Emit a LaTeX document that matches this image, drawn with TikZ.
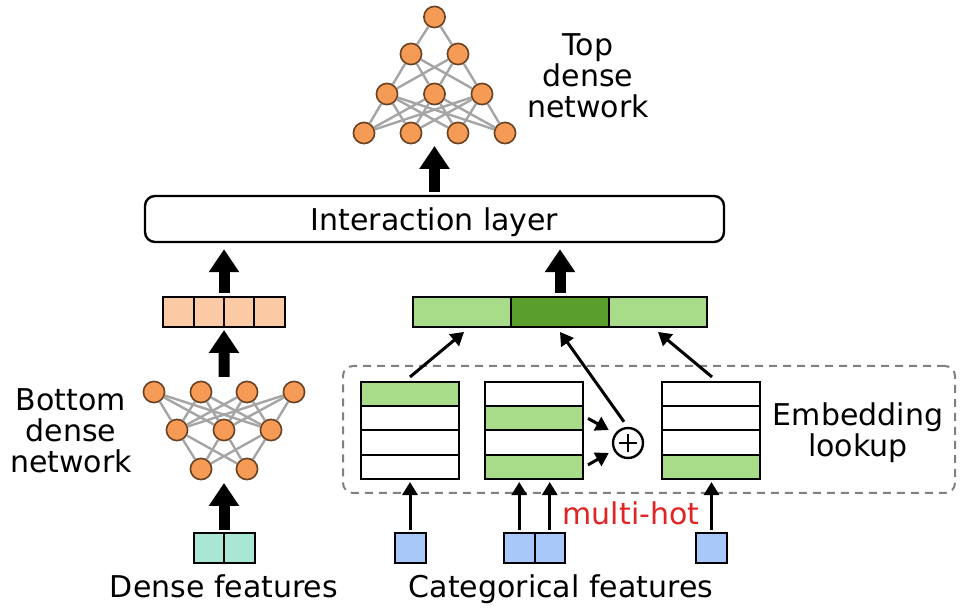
\documentclass[tikz,border=0pt]{standalone}
\usepackage{fontspec}
\setmainfont{DejaVu Sans}
\usetikzlibrary{arrows.meta,calc}
\definecolor{nodeor}{RGB}{245,155,85}
\definecolor{nodebd}{RGB}{105,65,35}
\definecolor{edgegray}{RGB}{165,165,165}
\definecolor{peach}{RGB}{251,202,165}
\definecolor{lgreen}{RGB}{169,220,137}
\definecolor{dgreen}{RGB}{90,158,45}
\definecolor{teal}{RGB}{170,230,212}
\definecolor{catblue}{RGB}{168,200,250}
\definecolor{dashgray}{RGB}{128,128,128}
\definecolor{hotred}{RGB}{225,35,35}
\begin{document}
\begin{tikzpicture}[x=0.5pt,y=-0.5pt,
  font=\fontsize{15pt}{15.5pt}\selectfont,
  neuron/.style={circle, draw=nodebd, fill=nodeor, line width=0.8pt, minimum size=10.6pt, inner sep=0pt},
  syn/.style={draw=edgegray, line width=1.2pt},
  cell/.style={draw, line width=1pt, inner sep=0pt, outer sep=0pt, minimum height=12.125pt, minimum width=49pt, fill=white},
  vcell/.style={cell, minimum height=15pt},
  bigarrow/.style={line width=5.5pt, -{Triangle[width=14.5pt,length=11.5pt]}},
  smallarrow/.style={line width=1.5pt, -{Triangle[width=7.5pt,length=6.5pt]}},
  lbl/.style={inner sep=0pt, align=center},
]
\useasboundingbox (0,0) rectangle (975,613);

% ---------- top dense network ----------
\node[neuron] (t11) at (434.5,17) {};
\node[neuron] (t21) at (411,54) {};
\node[neuron] (t22) at (458,54) {};
\node[neuron] (t31) at (387,94) {};
\node[neuron] (t32) at (434.5,94) {};
\node[neuron] (t33) at (482,94) {};
\node[neuron] (t41) at (364,133) {};
\node[neuron] (t42) at (411,133) {};
\node[neuron] (t43) at (458,133) {};
\node[neuron] (t44) at (505,133) {};
\foreach \b in {t21,t22} \draw[syn] (t11) -- (\b);
\foreach \a in {t21,t22} \foreach \b in {t31,t32,t33} \draw[syn] (\a) -- (\b);
\foreach \a in {t31,t32,t33} \foreach \b in {t41,t42,t43,t44} \draw[syn] (\a) -- (\b);
\node[lbl, anchor=north] (toplbl) at (588,33) {Top\\dense\\network};

% ---------- bottom dense network ----------
\node[neuron] (b11) at (154,392) {};
\node[neuron] (b12) at (201,392) {};
\node[neuron] (b13) at (247,392) {};
\node[neuron] (b14) at (294,392) {};
\node[neuron] (b21) at (177,430) {};
\node[neuron] (b22) at (224,430) {};
\node[neuron] (b23) at (271,430) {};
\node[neuron] (b31) at (201,469) {};
\node[neuron] (b32) at (247,469) {};
\foreach \a in {b11,b12,b13,b14} \foreach \b in {b21,b22,b23} \draw[syn] (\a) -- (\b);
\foreach \a in {b21,b22,b23} \foreach \b in {b31,b32} \draw[syn] (\a) -- (\b);
\node[lbl, anchor=north] (botlbl) at (71,388) {Bottom\\dense\\network};

% ---------- interaction layer ----------
\node[draw, rounded corners=5pt, line width=1.2pt, minimum width=289.5pt, minimum height=23pt,
      text height=12pt, text depth=0pt, inner sep=0pt] (inter) at (434.5,219) {Interaction layer};

% ---------- dense vector ----------
\node[vcell, fill=peach, minimum width=15.125pt] (o1) at (178.6,312) {};
\node[vcell, fill=peach, minimum width=15.125pt] (o2) at (208.9,312) {};
\node[vcell, fill=peach, minimum width=15.125pt] (o3) at (239.1,312) {};
\node[vcell, fill=peach, minimum width=15.125pt] (o4) at (269.4,312) {};

% ---------- embedding vector ----------
\node[vcell, fill=lgreen] (v1) at (462,312) {};
\node[vcell, fill=dgreen] (v2) at (560,312) {};
\node[vcell, fill=lgreen] (v3) at (658,312) {};

% ---------- embedding lookup ----------
\node[draw=dashgray, dash pattern=on 4pt off 3pt, line width=1pt, rounded corners=5pt,
      minimum width=306pt, minimum height=63.5pt, inner sep=0pt] (emb) at (649,429.5) {};
\node[lbl, anchor=north] (emblbl) at (858,402) {Embedding\\lookup};

\node[cell, fill=lgreen] (ta1) at (410,394.1) {};
\node[cell] (ta2) at (410,418.4) {};
\node[cell] (ta3) at (410,442.6) {};
\node[cell] (ta4) at (410,466.9) {};

\node[cell] (tb1) at (534,394.1) {};
\node[cell, fill=lgreen] (tb2) at (534,418.4) {};
\node[cell] (tb3) at (534,442.6) {};
\node[cell, fill=lgreen] (tb4) at (534,466.9) {};

\node[cell] (tc1) at (711,394.1) {};
\node[cell] (tc2) at (711,418.4) {};
\node[cell] (tc3) at (711,442.6) {};
\node[cell, fill=lgreen] (tc4) at (711,466.9) {};

\node[circle, draw, line width=1.2pt, minimum size=15pt, inner sep=0pt,
      path picture={
        \draw[line width=1.1pt] ([xshift=-4.5pt]path picture bounding box.center) -- ([xshift=4.5pt]path picture bounding box.center);
        \draw[line width=1.1pt] ([yshift=-4.5pt]path picture bounding box.center) -- ([yshift=4.5pt]path picture bounding box.center);
      }] (plus) at (628,443) {};

% ---------- feature inputs ----------
\node[vcell, fill=teal, minimum width=15.25pt] (d1) at (208.75,548) {};
\node[vcell, fill=teal, minimum width=15.25pt] (d2) at (239.25,548) {};
\node[lbl, anchor=base] (denselbl) at (224,598) {Dense features};

\node[vcell, fill=catblue, minimum width=15.5pt] (c1) at (410,548) {};
\node[vcell, fill=catblue, minimum width=15.25pt] (c21) at (519.25,548) {};
\node[vcell, fill=catblue, minimum width=15.25pt] (c22) at (549.75,548) {};
\node[vcell, fill=catblue, minimum width=15.5pt] (c3) at (711.5,548) {};
\node[lbl, anchor=base] (catlbl) at (561,598) {Categorical features};
\node[lbl, anchor=base, text=hotred] (hotlbl) at (631,525) {multi-hot};

% ---------- coordinates for free arrow ends ----------
\coordinate (bnetin) at ($(b31)!0.5!(b32)+(0,14)$);
\coordinate (bnetout) at ($(b12)!0.5!(b13)+(0,-15)$);
\coordinate (tnetin) at ($(t42)!0.5!(t43)+(0,13)$);

% ---------- thick arrows ----------
\draw[bigarrow] ($(d1.north east)+(0,-3)$) -- (bnetin);
\draw[bigarrow] (bnetout) -- ($(o2.south east)+(0,3)$);
\draw[bigarrow] ($(o2.north east)+(0,-4)$) -- ($(o2.north east |- inter.south)+(0,6)$);
\draw[bigarrow] ($(v2.north)+(0,-4)$) -- ($(v2.north |- inter.south)+(0,6)$);
\draw[bigarrow] ($(inter.north)+(0,-3)$) -- (tnetin);

% ---------- thin arrows ----------
\draw[smallarrow] ($(ta1.north)+(0,-5)$) -- ($(v1.south)+(2,5)$);
\draw[smallarrow] ($(tc1.north)+(1,-5)$) -- ($(v3.south)+(0,5)$);
\draw[smallarrow] ($(plus.north)+(-4,-5)$) -- ($(v2.south)+(0,5)$);
\draw[smallarrow] ($(tb2.east)+(5,0)$) -- ($(plus.west)+(-3,-13)$);
\draw[smallarrow] ($(tb4.east)+(5,-2)$) -- ($(plus.west)+(-3,10)$);

\draw[smallarrow] ($(c1.north)+(0,-3)$) -- ($(c1.north |- ta4.south)+(0,3)$);
\draw[smallarrow] ($(c21.north)+(0,-3)$) -- ($(c21.north |- tb4.south)+(0,3)$);
\draw[smallarrow] ($(c22.north)+(0,-3)$) -- ($(c22.north |- tb4.south)+(0,3)$);
\draw[smallarrow] ($(c3.north)+(0,-3)$) -- ($(c3.north |- tc4.south)+(0,3)$);
\end{tikzpicture}
\end{document}
